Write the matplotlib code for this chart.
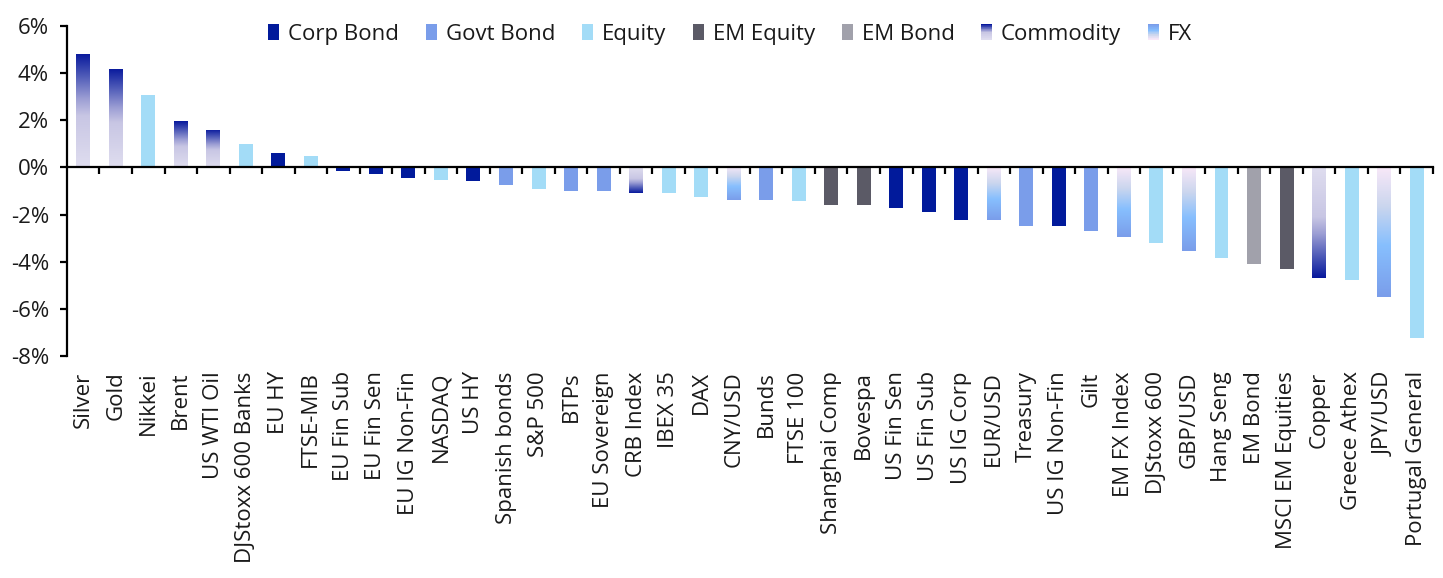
import numpy as np
import matplotlib.pyplot as plt
from matplotlib.colors import LinearSegmentedColormap
from matplotlib.patches import Patch, Rectangle
from matplotlib.legend_handler import HandlerBase

plt.rcParams['font.family'] = ['Open Sans', 'DejaVu Sans']

names = ['Silver', 'Gold', 'Nikkei', 'Brent', 'US WTI Oil', 'DJStoxx 600 Banks',
         'EU HY', 'FTSE-MIB', 'EU Fin Sub', 'EU Fin Sen', 'EU IG Non-Fin', 'NASDAQ',
         'US HY', 'Spanish bonds', 'S&P 500', 'BTPs', 'EU Sovereign', 'CRB Index',
         'IBEX 35', 'DAX', 'CNY/USD', 'Bunds', 'FTSE 100', 'Shanghai Comp', 'Bovespa',
         'US Fin Sen', 'US Fin Sub', 'US IG Corp', 'EUR/USD', 'Treasury', 'US IG Non-Fin',
         'Gilt', 'EM FX Index', 'DJStoxx 600', 'GBP/USD', 'Hang Seng', 'EM Bond',
         'MSCI EM Equities', 'Copper', 'Greece Athex', 'JPY/USD', 'Portugal General']

values = [4.82, 4.19, 3.09, 1.95, 1.61, 1.01,
          0.63, 0.47, -0.13, -0.28, -0.44, -0.52,
          -0.56, -0.75, -0.92, -1.01, -1.01, -1.09,
          -1.09, -1.25, -1.40, -1.40, -1.44, -1.61, -1.61,
          -1.73, -1.90, -2.24, -2.24, -2.49, -2.49,
          -2.71, -2.96, -3.21, -3.55, -3.85, -4.10,
          -4.31, -4.69, -4.78, -5.50, -7.23]

groups = ['Commodity', 'Commodity', 'Equity', 'Commodity', 'Commodity', 'Equity',
          'Corp Bond', 'Equity', 'Corp Bond', 'Corp Bond', 'Corp Bond', 'Equity',
          'Corp Bond', 'Govt Bond', 'Equity', 'Govt Bond', 'Govt Bond', 'Commodity',
          'Equity', 'Equity', 'FX', 'Govt Bond', 'Equity', 'EM Equity', 'EM Equity',
          'Corp Bond', 'Corp Bond', 'Corp Bond', 'FX', 'Govt Bond', 'Corp Bond',
          'Govt Bond', 'FX', 'Equity', 'FX', 'Equity', 'EM Bond',
          'EM Equity', 'Commodity', 'Equity', 'FX', 'Equity']

legendOrder = ['Corp Bond', 'Govt Bond', 'Equity', 'EM Equity', 'EM Bond', 'Commodity', 'FX']

solidColors = {'Corp Bond': '#011A9B', 'Govt Bond': '#7A9DEA', 'Equity': '#A3DCF7',
               'EM Equity': '#5B5A66', 'EM Bond': '#A1A1AB'}
gradCmaps = {
    'Commodity': LinearSegmentedColormap.from_list(
        'comm', [(0, '#DFDDEF'), (0.45, '#C8C6E4'), (0.6, '#9C9ED4'), (0.8, '#4F5BB8'), (1, '#07189C')]),
    'FX': LinearSegmentedColormap.from_list(
        'fx', [(0, '#F8E8F8'), (0.3, '#CBD6EE'), (0.6, '#87BFFE'), (1, '#7A9DEA')]),
}


class HandlerGrad(HandlerBase):
    def __init__(self, cmap, n=24):
        super().__init__()
        self.cmap = cmap
        self.n = n

    def create_artists(self, legend, orig_handle, xdescent, ydescent, width, height, fontsize, trans):
        arts = []
        h = height / self.n
        for k in range(self.n):
            t = k / (self.n - 1)
            r = Rectangle((-xdescent, -ydescent + k * h), width, h * 1.05,
                          facecolor=self.cmap(t), edgecolor='none', transform=trans)
            arts.append(r)
        return arts


fig = plt.figure(figsize=(14.43, 5.78), dpi=100)
ax = fig.add_axes([0.0464, 0.384, 0.9466, 0.571])

x = np.arange(len(names))
barW = 0.43
grad = np.linspace(0, 1, 256).reshape(-1, 1)
for i, (v, g) in enumerate(zip(values, groups)):
    if g in solidColors:
        ax.bar(x[i], v, width=barW, color=solidColors[g], zorder=2)
    else:
        b = ax.bar(x[i], v, width=barW, color='none', edgecolor='none', zorder=2)[0]
        im = ax.imshow(grad, cmap=gradCmaps[g], aspect='auto', origin='lower',
                       extent=(b.get_x(), b.get_x() + b.get_width(), 0, v), zorder=2)
        im.set_clip_path(b)

ax.set_xlim(-0.5, len(names) - 0.5)
ax.set_ylim(-8, 6)
ax.set_yticks(np.arange(-8, 7, 2))
ax.set_yticklabels([f'{t:.0f}%' for t in np.arange(-8, 7, 2)])

for s in ['top', 'right']:
    ax.spines[s].set_visible(False)
ax.spines['bottom'].set_position(('data', 0))
ax.spines['bottom'].set_linewidth(1.6)
ax.spines['left'].set_linewidth(1.6)
ax.spines['bottom'].set_zorder(3)

ax.set_xticks(np.arange(0.5, len(names), 1))
ax.set_xticklabels([])
ax.tick_params(axis='x', direction='out', length=5, width=1.6)
ax.tick_params(axis='y', direction='out', length=5, width=1.6, labelsize=16, pad=8,
               labelcolor='#1a1a1a')

sec = ax.secondary_xaxis('bottom')
sec.set_xticks(x)
sec.set_xticklabels(names, rotation=90, fontsize=16, color='#1a1a1a')
sec.tick_params(length=0, pad=11)
sec.spines['bottom'].set_visible(False)

handles = []
hmap = {}
for g in legendOrder:
    if g in solidColors:
        handles.append(Patch(facecolor=solidColors[g], edgecolor='none', label=g))
    else:
        p = Patch(facecolor='none', edgecolor='none', label=g)
        handles.append(p)
        hmap[p] = HandlerGrad(gradCmaps[g])

fig.legend(handles=handles, handler_map=hmap, loc='center', bbox_to_anchor=(0.506, 0.941),
           ncol=7, frameon=False, fontsize=16, handlelength=0.5, handleheight=0.7,
           handletextpad=0.4, columnspacing=1.2, labelcolor='#1a1a1a')

fig.savefig('out.png', dpi=100)
